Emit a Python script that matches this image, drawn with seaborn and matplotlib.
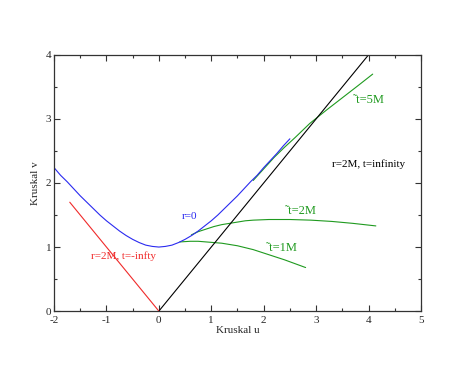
import matplotlib
matplotlib.use("Agg")
import matplotlib.pyplot as plt
import seaborn as sns
import pandas as pd
from matplotlib.ticker import MultipleLocator

# r=0 singularity
r0_u = [-2.0, -1.875, -1.75, -1.625, -1.5, -1.375, -1.25, -1.125, -1.0,
        -0.875, -0.75, -0.625, -0.5, -0.375, -0.25, -0.125, 0.0,
        0.125, 0.25, 0.375, 0.5, 0.625, 0.75, 0.875, 1.0,
        1.125, 1.25, 1.375, 1.5, 1.625, 1.75, 1.875, 2.0, 2.125, 2.25, 2.375, 2.5]
r0_v = [2.24, 2.12, 2.02, 1.91, 1.80, 1.70, 1.60, 1.50, 1.41,
        1.33, 1.25, 1.18, 1.12, 1.07, 1.03, 1.01, 1.00,
        1.01, 1.03, 1.07, 1.12, 1.18, 1.25, 1.33, 1.41,
        1.50, 1.60, 1.70, 1.80, 1.91, 2.02, 2.12, 2.24, 2.35, 2.46, 2.58, 2.69]

# horizons
hor_future_u = [0.0, 4.0]
hor_future_v = [0.0, 4.0]
hor_past_u = [0.0, -1.7]
hor_past_v = [0.0, 1.7]

# constant ~t slices
t1_u = [0.40, 0.5, 0.6, 0.75, 0.9, 1.05, 1.2, 1.35, 1.5, 1.65, 1.8, 1.95, 2.1, 2.25, 2.4, 2.6, 2.8]
t1_v = [1.08, 1.085, 1.09, 1.09, 1.08, 1.07, 1.06, 1.04, 1.02, 0.99, 0.96, 0.92, 0.88, 0.84, 0.80, 0.74, 0.68]
t2_u = [0.62, 0.75, 0.9, 1.05, 1.2, 1.35, 1.5, 1.65, 1.8, 2.1, 2.5, 2.9, 3.3, 3.7, 4.14]
t2_v = [1.19, 1.24, 1.28, 1.32, 1.35, 1.37, 1.39, 1.41, 1.42, 1.43, 1.43, 1.42, 1.40, 1.37, 1.33]
t5_u = [1.8, 2.0, 2.2, 2.4, 2.6, 2.88, 3.2, 3.5, 3.8, 4.08]
t5_v = [2.04, 2.22, 2.40, 2.56, 2.71, 2.93, 3.14, 3.33, 3.52, 3.70]

BLUE = "#2a2af0"
RED = "#f02a2a"
GREEN = "#1f9a1f"

sns.set_style("ticks")
plt.rcParams["font.family"] = ["Liberation Serif", "DejaVu Serif"]
plt.rcParams["axes.unicode_minus"] = False

fig = plt.figure(figsize=(4.74, 3.66), dpi=100)
ax = fig.add_axes([0.114, 0.150, 0.774, 0.700])

series = [
    (t1_u, t1_v, GREEN),
    (t2_u, t2_v, GREEN),
    (t5_u, t5_v, GREEN),
    (r0_u, r0_v, BLUE),
    (hor_future_u, hor_future_v, "black"),
    (hor_past_u, hor_past_v, RED),
]
for u, v, c in series:
    df = pd.DataFrame({"u": u, "v": v})
    sns.lineplot(data=df, x="u", y="v", sort=False, color=c, lw=0.8, ax=ax)

fs = 8
ax.text(0.59, 1.47, "r=0", color=BLUE, fontsize=fs, ha="center", va="center")
ax.text(-1.29, 0.86, "r=2M, t=-infty", color=RED, fontsize=fs, ha="left", va="center")
ax.text(3.30, 2.29, "r=2M, t=infinity", color="black", fontsize=fs, ha="left", va="center")
ax.text(3.70, 3.30, "\u02dct=5M", color=GREEN, fontsize=fs + 1, ha="left", va="center")
ax.text(2.40, 1.56, "\u02dct=2M", color=GREEN, fontsize=fs + 1, ha="left", va="center")
ax.text(2.05, 0.98, "\u02dct=1M", color=GREEN, fontsize=fs + 1, ha="left", va="center")

ax.set_xlim(-2, 5)
ax.set_ylim(0, 4)
ax.xaxis.set_major_locator(MultipleLocator(1))
ax.xaxis.set_minor_locator(MultipleLocator(0.5))
ax.yaxis.set_major_locator(MultipleLocator(1))
ax.yaxis.set_minor_locator(MultipleLocator(0.5))
ax.tick_params(which="both", direction="in", top=True, right=True,
               labelsize=fs, pad=2, width=0.8, color="#333333")
ax.tick_params(axis="x", which="major", pad=3.5)
ax.tick_params(which="major", length=4)
ax.tick_params(which="minor", length=2)
for s in ax.spines.values():
    s.set_linewidth(0.9)
    s.set_color("#333333")

ax.set_xlabel("Kruskal u", fontsize=fs, labelpad=1)
ax.set_ylabel("Kruskal v", fontsize=fs, labelpad=4)

fig.savefig("out.png", dpi=100)
